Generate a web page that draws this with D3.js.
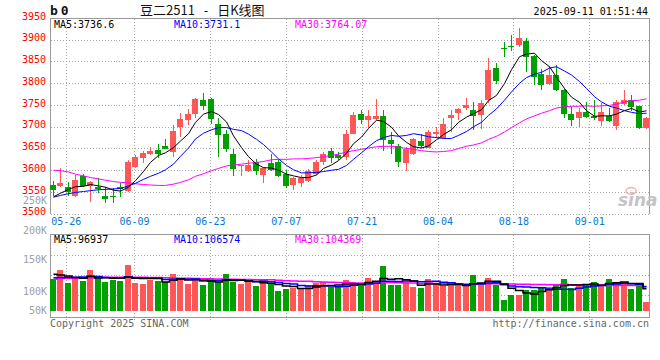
<!DOCTYPE html>
<html><head><meta charset="utf-8">
<script src="https://cdn.jsdelivr.net/npm/d3@7"></script>
<style>body{margin:0;background:#fff}svg{display:block}</style>
</head><body><svg id="c" width="660" height="360"></svg>
<script>
const dates = ["05-22","05-23","05-26","05-27","05-28","05-29","05-30","06-03","06-04","06-05","06-06","06-09","06-10","06-11","06-12","06-13","06-16","06-17","06-18","06-19","06-20","06-23","06-24","06-25","06-26","06-27","06-30","07-01","07-02","07-03","07-04","07-07","07-08","07-09","07-10","07-11","07-14","07-15","07-16","07-17","07-18","07-21","07-22","07-23","07-24","07-25","07-28","07-29","07-30","07-31","08-01","08-04","08-05","08-06","08-07","08-08","08-11","08-12","08-13","08-14","08-15","08-18","08-19","08-20","08-21","08-22","08-25","08-26","08-27","08-28","08-29","09-01","09-02","09-03","09-04","09-05","09-08","09-09","09-10","09-11"];
const open = [3566,3563,3562,3541,3587,3564,3562,3541,3541,3562,3552,3608,3628,3638,3646,3655,3642,3700,3715,3729,3761,3763,3707,3683,3638,3610,3598,3618,3590,3617,3618,3592,3566,3570,3576,3592,3618,3644,3635,3631,3684,3729,3715,3717,3724,3669,3655,3617,3637,3667,3652,3683,3673,3719,3732,3744,3738,3726,3761,3835,3882,3886,3887,3898,3862,3822,3799,3820,3785,3730,3720,3734,3724,3713,3724,3701,3753,3762,3747,3698];
const high = [3576,3605,3573,3589,3592,3575,3583,3562,3558,3570,3623,3636,3644,3654,3661,3671,3705,3732,3740,3766,3777,3766,3719,3692,3648,3612,3623,3625,3608,3638,3623,3600,3585,3589,3602,3623,3642,3650,3642,3692,3734,3738,3738,3763,3738,3688,3660,3654,3673,3683,3692,3700,3719,3738,3744,3765,3757,3762,3858,3846,3894,3912,3927,3904,3864,3833,3839,3843,3787,3745,3744,3757,3761,3755,3744,3761,3784,3772,3747,3722];
const low = [3541,3561,3541,3539,3562,3527,3547,3524,3524,3539,3549,3604,3617,3635,3627,3648,3631,3677,3705,3720,3738,3706,3631,3642,3587,3587,3596,3589,3571,3599,3585,3558,3554,3562,3573,3590,3613,3617,3623,3623,3683,3707,3698,3716,3644,3638,3608,3599,3635,3652,3651,3673,3671,3688,3715,3738,3692,3694,3755,3799,3860,3874,3883,3826,3795,3785,3795,3781,3721,3702,3700,3719,3716,3701,3711,3692,3751,3736,3694,3694];
const close = [3554,3571,3549,3577,3564,3573,3557,3534,3540,3556,3618,3631,3640,3644,3637,3649,3690,3717,3729,3763,3747,3717,3682,3648,3602,3611,3612,3599,3604,3600,3587,3563,3583,3582,3598,3618,3637,3627,3629,3684,3726,3715,3724,3724,3670,3660,3619,3648,3671,3655,3687,3688,3707,3728,3740,3749,3724,3755,3830,3804,3881,3885,3904,3860,3814,3795,3818,3784,3730,3715,3734,3722,3721,3734,3713,3757,3761,3745,3696,3720];
const ma5 = [3539,3547,3556,3562,3563,3567,3564,3561,3554,3552,3561,3576,3597,3618,3634,3640,3652,3667,3684,3710,3729,3735,3728,3711,3679,3652,3631,3614,3606,3605,3600,3591,3587,3583,3583,3589,3604,3612,3622,3639,3661,3676,3696,3715,3712,3699,3679,3664,3654,3651,3656,3670,3682,3693,3710,3722,3730,3739,3760,3772,3799,3831,3861,3867,3869,3852,3838,3814,3788,3768,3756,3737,3724,3725,3725,3729,3737,3742,3734,3736.6];
const ma10 = [3538,3542,3546,3549,3551,3553,3555,3556,3557,3558,3564,3570,3579,3586,3593,3601,3614,3632,3651,3672,3685,3693,3698,3698,3694,3691,3683,3671,3659,3642,3626,3611,3601,3594,3594,3595,3597,3600,3602,3611,3625,3640,3654,3668,3675,3680,3678,3680,3684,3681,3677,3675,3673,3673,3680,3689,3700,3710,3726,3741,3761,3780,3800,3813,3821,3825,3835,3838,3828,3819,3804,3788,3769,3757,3747,3743,3737,3733,3730,3731.1];
const ma30 = [3600,3599,3596,3591,3587,3583,3580,3577,3574,3572,3571,3569,3567,3566,3565,3565,3568,3572,3578,3586,3592,3599,3604,3610,3612,3614,3616,3618,3620,3624,3625,3625,3626,3626,3627,3629,3631,3634,3637,3642,3645,3648,3651,3654,3655,3655,3653,3650,3648,3645,3643,3642,3643,3645,3650,3655,3658,3663,3671,3678,3688,3698,3709,3718,3725,3731,3737,3743,3746,3747,3747,3748,3747,3748,3749,3752,3757,3760,3761,3764.07];
// volumes in thousands of lots
const volume = [139,178,122,147,130,178,145,126,136,130,200,122,117,136,130,125,161,142,117,135,113,142,125,161,125,117,127,109,135,116,87,96,99,94,113,120,126,104,104,135,126,109,144,130,196,113,115,128,104,100,139,117,107,111,111,111,157,122,144,113,48,70,70,91,91,104,104,117,139,100,107,113,126,113,139,126,126,96,111,39];
const volMa5 = [160,157,152,146,143,151,144,145,143,143,147,143,141,141,141,126,134,139,135,136,134,130,126,135,133,134,131,128,123,121,115,109,107,98,98,104,110,111,113,118,119,116,124,129,141,138,140,136,131,112,117,118,113,115,117,111,119,122,129,129,117,99,89,78,74,85,92,101,111,113,113,115,117,112,120,123,126,120,120,96.937];
const volMa10 = [145,146,147,147,148,150,150,146,144,143,149,144,143,142,142,137,138,140,138,139,130,132,133,135,135,134,130,127,129,127,124,120,117,111,109,110,110,109,106,108,112,113,118,121,129,129,128,130,130,127,128,129,125,123,115,114,119,118,122,123,114,109,106,104,102,101,96,95,95,93,99,104,109,111,116,118,121,119,116,106.574];
const volMa30 = [138,141,142,143,144,145,146,147,147,147,147,147,147,146,146,145,144,143,142,141,140,139,139,138,138,137,137,136,136,136,134,132,131,129,129,127,126,125,124,124,122,122,122,122,124,124,123,122,122,120,121,120,120,118,118,118,119,119,119,119,118,117,116,116,115,115,114,114,116,114,114,114,113,113,111,111,112,111,111,104.369];
const priceTicks = [3500,3550,3600,3650,3700,3750,3800,3850,3900,3950];
const dateTicks = ["05-26","06-09","06-23","07-07","07-21","08-04","08-18","09-01"];
const volTickValues = [50,100,150,200,250];
const volTickLabels = ["50K","100K","150K","200K","250K"];
const titleCode = "b0";
const titleText = "豆二2511 - 日K线图";
const stamp = "2025-09-11 01:51:44";

const mono = "'DejaVu Sans Mono', monospace";
const RED = "#ff5757", GREEN = "#00a000", GRID = "#aaaaaa", BORDER = "#999999";
const svg = d3.select("#c");

const x = d3.scaleBand().domain(dates).range([49, 650]).paddingInner(0.2).paddingOuter(0.1);
const xc = d => Math.round(x(d) + x.bandwidth() / 2);
const gx = d3.scaleLinear().domain([0, dates.length - 1]).range([50.5, 650]);
const y = d3.scaleLinear().domain([3500, 3950]).range([213.7, 18]);
const yv = d3.scaleLinear().domain([0, 335]).range([311, 234]);
const yvLabel = d3.scaleLinear().domain(volTickValues).range([310.7, 291, 259.3, 230, 200.7]);
const L = 50.5, R = 649.5, T = Math.round(y(3950)) + 0.5, B = y(3500);
const VT = 234.5, VB = 317.5;

const data = dates.map((d, i) => ({d, i, o: open[i], h: high[i], l: low[i], c: close[i], v: volume[i]}));

// grid
const grid = svg.append("g").attr("stroke", GRID).attr("stroke-dasharray", "1,2").attr("shape-rendering", "crispEdges");
priceTicks.filter(t => t < 3950).forEach(t => {
  const yy = Math.round(y(t)) + 0.5;
  grid.append("line").attr("x1", L).attr("x2", R).attr("y1", yy).attr("y2", yy);
});
dateTicks.forEach(dt => {
  const xx = Math.round(gx(dates.indexOf(dt))) + 0.5;
  grid.append("line").attr("x1", xx).attr("x2", xx).attr("y1", T).attr("y2", B);
  grid.append("line").attr("x1", xx).attr("x2", xx).attr("y1", VT).attr("y2", VB + 3);
});
[1, 2, 3].forEach(k => {
  const yy = Math.round(VT + k * 20.3) + 0.5;
  grid.append("line").attr("x1", L).attr("x2", R).attr("y1", yy).attr("y2", yy);
});

// borders
svg.append("path").attr("d", `M${L},${B}V${T}H${R}V${B}`).attr("fill", "none").attr("stroke", BORDER).attr("shape-rendering", "crispEdges");
svg.append("rect").attr("x", L).attr("y", VT).attr("width", R - L).attr("height", VB - VT).attr("fill", "none").attr("stroke", BORDER).attr("shape-rendering", "crispEdges");

// watermark
const wm = svg.append("g");
wm.append("ellipse").attr("cx", 631).attr("cy", 191).attr("rx", 5).attr("ry", 3.5).attr("fill", "none").attr("stroke", "#f3b0b0").attr("stroke-width", 1.5);
wm.append("text").attr("x", 618).attr("y", 206).text("sina").attr("font-family", "'DejaVu Sans', sans-serif").attr("font-style", "italic").attr("font-weight", "bold").attr("font-size", 17).attr("fill", "#c4c4c4");

// candles
const cg = svg.append("g").attr("shape-rendering", "crispEdges");
const col = d => d.c >= d.o ? RED : GREEN;
cg.selectAll("line.w").data(data).join("line")
  .attr("x1", d => xc(d.d) + 0.5).attr("x2", d => xc(d.d) + 0.5)
  .attr("y1", d => y(d.h)).attr("y2", d => y(d.l)).attr("stroke", col);
cg.selectAll("rect.b").data(data).join("rect")
  .attr("x", d => xc(d.d) - 3).attr("width", 6)
  .attr("y", d => Math.min(y(d.o), y(d.c)))
  .attr("height", d => Math.max(1, Math.abs(y(d.o) - y(d.c))))
  .attr("fill", col);

// MA lines
const lineP = d3.line().x((v, i) => xc(dates[i]) + 0.5).y(v => y(v));
[[ma30, "#ff00ff"], [ma10, "#0000ff"], [ma5, "#000000"]].forEach(([arr, c]) => {
  svg.append("path").attr("d", lineP(arr)).attr("fill", "none").attr("stroke", c).attr("stroke-width", 1);
});

// volume bars
const vg = svg.append("g").attr("shape-rendering", "crispEdges");
vg.selectAll("rect").data(data).join("rect")
  .attr("x", d => xc(d.d) - 3).attr("width", 6)
  .attr("y", d => yv(d.v)).attr("height", d => yv(0) - yv(d.v))
  .attr("fill", col);
const lineV = d3.line().x((v, i) => xc(dates[i]) + 0.5).y(v => yv(v)).curve(d3.curveStep);
[[volMa30, "#ff00ff"], [volMa10, "#0000ff"], [volMa5, "#000000"]].forEach(([arr, c]) => {
  svg.append("path").attr("d", lineV(arr)).attr("fill", "none").attr("stroke", c).attr("stroke-width", 1.5);
});

// axes
const ya = svg.append("g").attr("transform", "translate(50,0)")
  .call(d3.axisLeft(y).tickValues(priceTicks).tickSize(0).tickPadding(4).tickFormat(d3.format("d")));
ya.select(".domain").remove();
ya.selectAll("text").attr("fill", "#ff0000").attr("font-family", mono).attr("font-size", 10).attr("y", -2);

const xa = svg.append("g").attr("transform", `translate(0,${B})`)
  .call(d3.axisBottom(gx).tickValues(dateTicks.map(d => dates.indexOf(d))).tickSize(0).tickPadding(4).tickFormat(i => dates[i]));
xa.select(".domain").remove();
xa.selectAll("text").attr("fill", "#0a78d2").attr("font-family", mono).attr("font-size", 10);

svg.append("g").selectAll("text").data(volTickValues).join("text")
  .attr("x", 47).attr("y", v => yvLabel(v)).attr("dy", "0.35em").attr("text-anchor", "end")
  .attr("fill", "#a0a0a0").attr("font-family", mono).attr("font-size", 10)
  .text((v, i) => volTickLabels[i]);

// titles
svg.append("text").attr("x", 50).attr("y", 15).text(titleCode).attr("font-family", mono).attr("font-weight", "bold").attr("font-size", 13).attr("letter-spacing", 3).attr("fill", "#111");
svg.append("text").attr("x", 140).attr("y", 15).text(titleText).attr("font-family", "'Noto Sans CJK SC', sans-serif").attr("font-size", 13).attr("word-spacing", 6).attr("fill", "#111");
svg.append("text").attr("x", 648).attr("y", 15).attr("text-anchor", "end").text(stamp).attr("font-family", mono).attr("font-size", 10).attr("fill", "#000");

// legends
const leg = (yy, items) => items.forEach(([tx, xx, c]) =>
  svg.append("text").attr("x", xx).attr("y", yy).text(tx).attr("font-family", mono).attr("font-size", 10).attr("fill", c));
const last = a => a[a.length - 1];
leg(27.5, [["MA5:" + last(ma5), 54, "#000"], ["MA10:" + last(ma10), 174, "#0000ff"], ["MA30:" + last(ma30), 295, "#ff00ff"]]);
leg(242.5, [["MA5:" + Math.round(last(volMa5) * 1000), 54, "#000"], ["MA10:" + Math.round(last(volMa10) * 1000), 174, "#0000ff"], ["MA30:" + Math.round(last(volMa30) * 1000), 295, "#ff00ff"]]);

// footer
svg.append("text").attr("x", 50).attr("y", 327).text("Copyright 2025 SINA.COM").attr("font-family", mono).attr("font-size", 10).attr("fill", "#666");
svg.append("text").attr("x", 649).attr("y", 327).attr("text-anchor", "end").text("http://finance.sina.com.cn").attr("font-family", mono).attr("font-size", 10).attr("fill", "#666");
</script></body></html>
